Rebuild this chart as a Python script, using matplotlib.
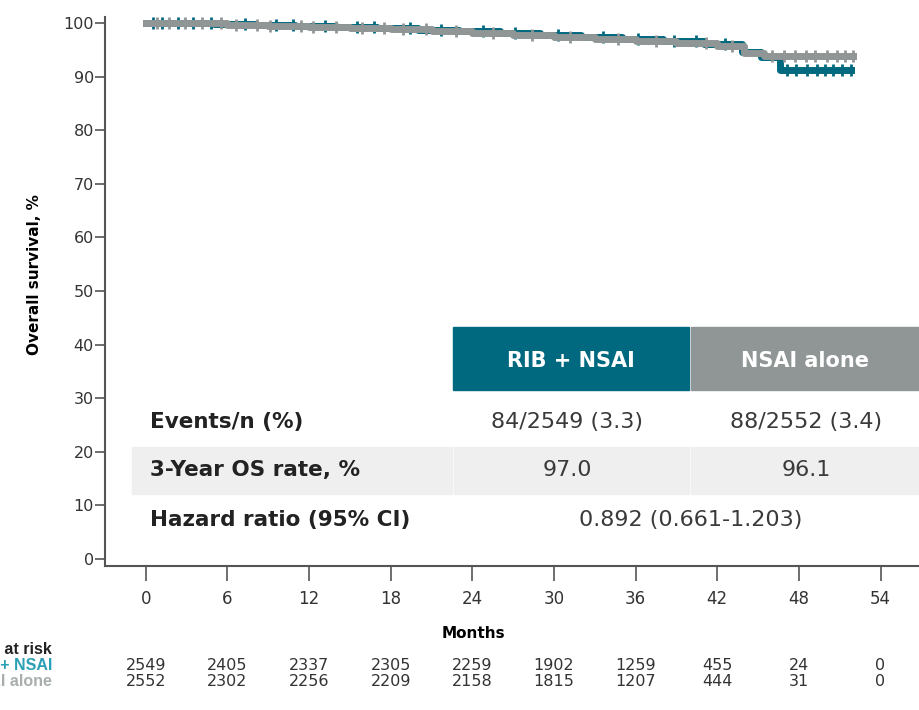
import matplotlib
matplotlib.use("Agg")
import matplotlib.pyplot as plt
from matplotlib.patches import Rectangle

plt.rcParams['font.family'] = ['DejaVu Sans']

TEAL = "#00687f"
GRAY = "#8f9695"

# Kaplan-Meier steps (months, OS %)
rib_t = [0, 2, 5, 8, 11, 14, 17, 20, 23, 26, 29, 32, 35, 38, 41, 43.8, 45.2, 46.6, 51.8]
rib_s = [100, 99.9, 99.8, 99.6, 99.4, 99.2, 99.0, 98.7, 98.4, 98.1, 97.8, 97.4, 97.0, 96.6, 96.1, 94.6, 93.6, 91.3, 91.3]
nsai_t = [0, 3, 6, 9, 12, 15, 18, 21, 24, 27, 30, 33, 36, 39, 42, 44.0, 45.4, 52.0]
nsai_s = [100, 99.9, 99.7, 99.5, 99.3, 99.1, 98.8, 98.5, 98.1, 97.8, 97.4, 97.0, 96.6, 96.2, 95.7, 94.4, 93.9, 93.9]

# censor marks (months)
rib_cens = [0.5, 1.2, 2.4, 3.5, 4.8, 7.3, 9.6, 10.8, 13.2, 15.5, 16.8, 19.4, 21.7,
            24.8, 27.1, 30.3, 33.6, 36.2, 38.8, 40.4, 42.6, 47.1, 47.8, 48.6,
            49.3, 49.9, 50.5, 51.2, 51.8]
nsai_cens = [0.8, 1.7, 2.9, 4.1, 5.5, 6.6, 8.2, 9.1, 11.4, 12.3, 14.0, 15.9, 17.5,
             18.9, 20.6, 22.8, 25.5, 28.4, 31.2, 34.7, 37.5, 41.2, 43.1, 46.0,
             46.9, 47.7, 48.5, 49.2, 50.1, 50.8, 51.4, 52.0]

months = [0, 6, 12, 18, 24, 30, 36, 42, 48, 54]
risk_rib = [2549, 2405, 2337, 2305, 2259, 1902, 1259, 455, 24, 0]
risk_nsai = [2552, 2302, 2256, 2209, 2158, 1815, 1207, 444, 31, 0]

row_labels = ["Events/n (%)", "3-Year OS rate, %", "Hazard ratio (95% CI)"]
rib_vals = ["84/2549 (3.3)", "97.0"]
nsai_vals = ["88/2552 (3.4)", "96.1"]
hr_text = "0.892 (0.661-1.203)"

W, H = 920, 710
fig = plt.figure(figsize=(W / 100, H / 100), dpi=100)
ax = fig.add_axes([105 / W, 1 - 566 / H, 1 - 105 / W, (566 - 17) / H])


def surv_at(ts, ss, t):
    v = ss[0]
    for a, b in zip(ts, ss):
        if a <= t:
            v = b
    return v


ax.step(rib_t, rib_s, where="post", color=TEAL, lw=5, zorder=3)
ax.plot(rib_cens, [surv_at(rib_t, rib_s, c) for c in rib_cens], ls="none",
        marker="|", ms=8, mew=2, color=TEAL, zorder=3)
ax.step(nsai_t, nsai_s, where="post", color=GRAY, lw=5, zorder=4)
ax.plot(nsai_cens, [surv_at(nsai_t, nsai_s, c) for c in nsai_cens], ls="none",
        marker="|", ms=8, mew=2, color=GRAY, zorder=4)

ax.set_xlim(-3.0, 56.9)
ax.set_ylim(-1.3, 101.1)
ax.set_xticks(months)
ax.set_yticks(range(0, 101, 10))
for s in ["top", "right"]:
    ax.spines[s].set_visible(False)
for s in ["left", "bottom"]:
    ax.spines[s].set_color("#555555")
    ax.spines[s].set_linewidth(1.5)
ax.tick_params(axis="x", length=11, width=1.2, color="#555555", labelsize=12,
               labelcolor="#333333", pad=6)
ax.tick_params(axis="y", length=7, width=1.2, color="#555555", labelsize=11.5,
               labelcolor="#333333", pad=1)
ax.set_ylabel("Overall survival, %", fontsize=11, fontweight="bold")
ax.yaxis.set_label_coords((42 - 105) / (W - 105), (566 - 275) / (566 - 17))
ax.set_xlabel("Months", fontsize=11, fontweight="bold")
ax.xaxis.set_label_coords((473 - 105) / (W - 105), -0.11)


def fx(x):
    return x / W


def fy(y):
    return 1 - y / H


# table header
fig.add_artist(Rectangle((fx(453), fy(390)), fx(689) - fx(453), (390 - 327) / H,
                         transform=fig.transFigure, color=TEAL, zorder=5))
fig.add_artist(Rectangle((fx(691), fy(390)), fx(920) - fx(691), (390 - 327) / H,
                         transform=fig.transFigure, color=GRAY, zorder=5))
fig.text(fx(571), fy(361), "RIB + NSAI", color="white", fontsize=15,
         fontweight="bold", ha="center", va="center", zorder=6)
fig.text(fx(805), fy(361), "NSAI alone", color="white", fontsize=15,
         fontweight="bold", ha="center", va="center", zorder=6)

# shaded row
for x0, x1 in [(132, 452), (454, 689), (691, 920)]:
    fig.add_artist(Rectangle((fx(x0), fy(494)), fx(x1) - fx(x0), (494 - 447) / H,
                             transform=fig.transFigure, color="#efefef", zorder=1))

row_y = [422, 470, 520]
for lab, y in zip(row_labels, row_y):
    fig.text(fx(150), fy(y), lab, fontsize=15.5, fontweight="bold", color="#222222",
             ha="left", va="center", zorder=6)
for v, y in zip(rib_vals, row_y[:2]):
    fig.text(fx(567), fy(y), v, fontsize=16, color="#3a3a3a", ha="center",
             va="center", zorder=6)
for v, y in zip(nsai_vals, row_y[:2]):
    fig.text(fx(806), fy(y), v, fontsize=16, color="#3a3a3a", ha="center",
             va="center", zorder=6)
fig.text(fx(691), fy(row_y[2]), hr_text, fontsize=16, color="#3a3a3a",
         ha="center", va="center", zorder=6)

# numbers at risk
risk_font = ['Liberation Sans', 'DejaVu Sans']
fig.text(fx(52), fy(649), "No. at risk", fontsize=11.5, fontweight="bold",
         color="#222222", ha="right", va="center", family=risk_font)
fig.text(fx(52), fy(665), "RIB + NSAI", fontsize=11.5, fontweight="bold",
         color="#2a9fb5", ha="right", va="center", family=risk_font)
fig.text(fx(52), fy(681), "NSAI alone", fontsize=11.5, fontweight="bold",
         color="#a8aeae", ha="right", va="center", family=risk_font)
for m, a, b in zip(months, risk_rib, risk_nsai):
    xf = fig.transFigure.inverted().transform(ax.transData.transform((m, 0)))[0]
    fig.text(xf, fy(665), str(a), fontsize=11.5, color="#333333", ha="center", va="center")
    fig.text(xf, fy(681), str(b), fontsize=11.5, color="#333333", ha="center", va="center")

fig.savefig("out.png", dpi=100)
